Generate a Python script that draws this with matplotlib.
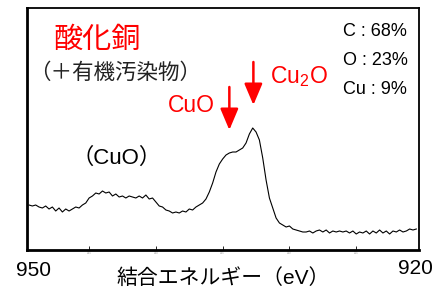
import numpy as np
import matplotlib
matplotlib.use("Agg")
import matplotlib.pyplot as plt

plt.rcParams['font.family'] = ['Liberation Sans', 'Noto Sans CJK JP', 'DejaVu Sans']
CJK = ['Noto Sans CJK JP', 'DejaVu Sans']

# binding energy grid (eV), 0.25 eV step
energy = np.arange(949.5, 920.4, -0.25)

# intensity (arb. units)
intensity = [
    45, 44, 45, 43, 42, 44, 41, 43, 39, 42,
    38, 41, 39, 41, 43, 42, 45, 47, 52, 54,
    57, 56, 59, 57, 58, 54, 56, 53, 54, 52,
    54, 53, 52, 54, 52, 55, 51, 52, 48, 44,
    43, 40, 39, 37, 38, 37, 39, 38, 41, 40,
    43, 45, 47, 51, 58, 67, 78, 86, 91, 95,
    97, 98, 98, 100, 102, 107, 116, 122, 118, 110,
    92, 70, 52, 42, 32, 27, 25, 23, 24, 21,
    20, 19, 18, 18, 19, 17, 19, 20, 18, 20,
    17, 19, 18, 19, 18, 19, 17, 19, 16, 18,
    17, 19, 16, 19, 17, 20, 17, 19, 16, 19,
    18, 20, 18, 19, 21, 20, 21,
]

composition = ["C : 68%", "O : 23%", "Cu : 9%"]
peak_cuo = 934.5
peak_cu2o = 932.7
major_ticks = [945, 940, 935, 930, 925]

W, H = 435, 291
fig = plt.figure(figsize=(W / 100, H / 100), dpi=100)
ax = fig.add_axes([27 / W, 1 - 250 / H, 392 / W, 242 / H])

ax.plot(energy, intensity, color="black", lw=0.8)
ax.set_xlim(949.65, 920.3)
ax.set_ylim(0, 242)

ax.set_xticks(major_ticks)
ax.set_xticklabels([str(t) for t in major_ticks])
ax.tick_params(axis="x", direction="in", length=3, width=0.6, labelsize=2,
               labelcolor="#999999", pad=1)
ax.set_yticks([])
for side in ["left", "bottom"]:
    ax.spines[side].set_linewidth(2.0)
for side in ["top", "right"]:
    ax.spines[side].set_linewidth(1.3)


def ftext(x, y, s, **kw):
    fig.text(x / W, 1 - y / H, s, **kw)


ftext(97, 40, "酸化銅", color="red", fontsize=21, ha="center", va="center",
      family=CJK)
ftext(115, 73, "（＋有機汚染物）", color="#222222", fontsize=15.5,
      ha="center", va="center", family=CJK)
ftext(191, 106, "CuO", color="red", fontsize=16.5, ha="center", va="center")
ftext(299, 77, "Cu$\\mathregular{_2}$O", color="red", fontsize=16.5,
      ha="center", va="center")
ftext(117, 158, "（CuO）", color="black", fontsize=16, ha="center", va="center")

for i, s in enumerate(composition):
    ftext(343, 32 + 28.5 * i, s, color="black", fontsize=13,
          ha="left", va="center")

ftext(34, 270, "950", color="black", fontsize=15, ha="center", va="center")
ftext(415, 268, "920", color="black", fontsize=15, ha="center", va="center")
ftext(223, 278, "結合エネルギー（eV）", color="black", fontsize=15,
      ha="center", va="center")

arrow = dict(arrowstyle="-|>,head_length=1.3,head_width=0.55", color="red",
             lw=1.8, mutation_scale=10, shrinkA=0, shrinkB=0)
ax.annotate("", xy=(peak_cuo, 120), xytext=(peak_cuo, 163), arrowprops=arrow)
ax.annotate("", xy=(peak_cu2o, 145), xytext=(peak_cu2o, 188), arrowprops=arrow)

fig.savefig("out.png", dpi=100)
